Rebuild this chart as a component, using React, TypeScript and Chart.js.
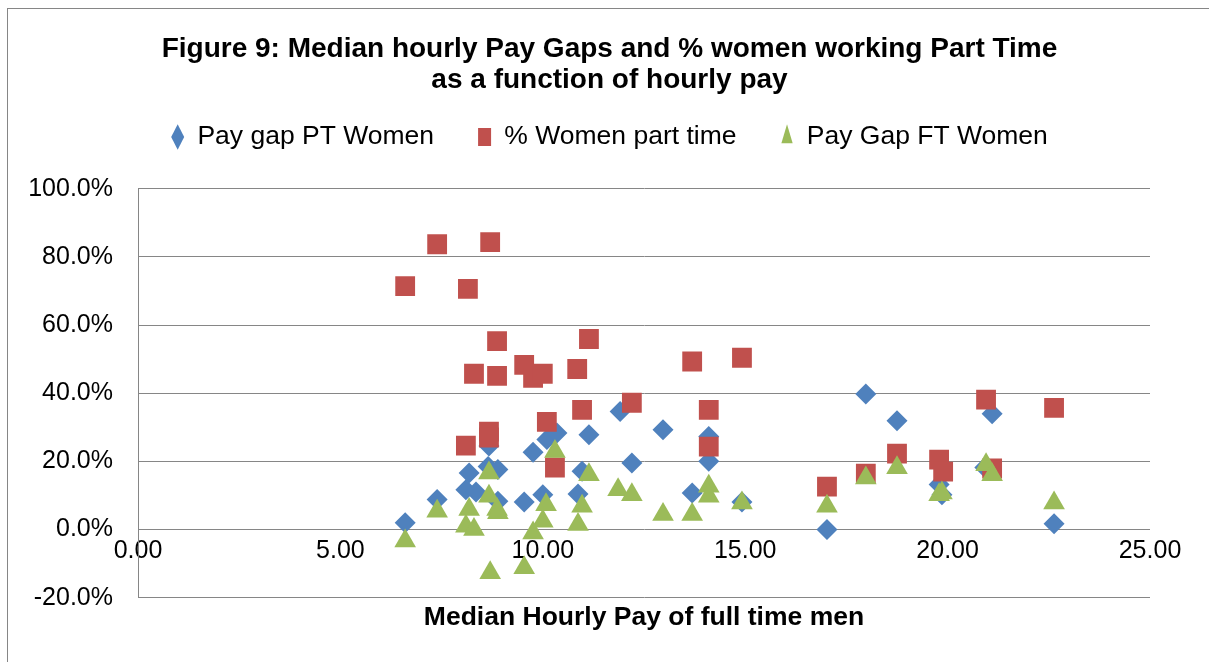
import React, { useEffect, useRef } from "react";
import { Chart, registerables } from "chart.js";

Chart.register(...registerables);

// ---- Data ----
const TITLE_LINES = [
  "Figure 9: Median hourly Pay Gaps and % women working Part Time",
  "as a function of hourly pay",
];
const X_TITLE = "Median Hourly Pay of full time men";
const SERIES_NAMES = ["Pay gap PT Women", "% Women part time", "Pay Gap FT Women"];

const ptGapX = [6.6, 7.39, 8.18, 8.1, 8.35, 8.67, 8.65, 8.89, 8.89, 9.54, 9.76, 10.0, 10.1, 10.35, 10.87, 10.97, 11.14, 11.91, 12.2, 12.97, 13.69, 14.1, 14.1, 14.92, 17.02, 17.98, 18.75, 19.79, 19.86, 20.92, 21.1, 22.63];
const ptGapY = [2.0, 8.8, 16.6, 11.7, 11.0, 24.5, 18.5, 17.6, 8.3, 8.1, 22.7, 10.2, 26.4, 28.3, 10.4, 17.1, 27.8, 34.6, 19.5, 29.3, 10.7, 27.3, 20.0, 8.1, 0.0, 39.8, 31.9, 13.2, 10.2, 18.2, 34.0, 1.7];

const pctPtX = [6.6, 7.39, 8.15, 8.7, 8.3, 8.1, 8.67, 8.67, 8.87, 8.87, 9.54, 9.76, 10.0, 10.1, 10.3, 10.85, 10.97, 11.14, 12.2, 13.69, 14.1, 14.1, 14.92, 17.02, 17.98, 18.75, 19.79, 19.89, 20.95, 21.1, 22.63];
const pctPtY = [71.4, 83.7, 70.6, 84.3, 45.7, 24.6, 28.7, 27.0, 55.3, 45.1, 48.3, 44.5, 45.7, 31.6, 18.2, 47.1, 35.1, 55.9, 37.2, 49.3, 35.1, 24.3, 50.4, 12.6, 16.4, 22.3, 20.5, 17.0, 38.1, 17.9, 35.7];

const ftGapX = [6.6, 7.39, 8.18, 8.1, 8.3, 8.67, 8.67, 8.7, 8.87, 8.89, 9.54, 9.76, 10.0, 10.08, 10.3, 10.87, 10.97, 11.14, 11.86, 12.2, 12.97, 13.69, 14.1, 14.1, 14.92, 17.02, 17.98, 18.75, 19.79, 19.86, 20.95, 21.1, 22.63];
const ftGapY = [-3.4, 5.4, 5.9, 1.0, 0.0, 16.6, 9.8, -12.7, 5.9, 4.9, -11.2, -1.0, 2.4, 7.3, 22.9, 1.5, 6.8, 16.1, 11.7, 10.2, 4.4, 4.4, 12.7, 9.8, 7.8, 6.8, 15.1, 18.1, 10.2, 10.7, 19.0, 16.1, 7.8];

const X_MIN = 0;
const X_MAX = 25;
const X_STEP = 5;
const Y_MIN = -20;
const Y_MAX = 100;
const Y_STEP = 20;

const FONT = '"Liberation Sans", Arial, sans-serif';
const BLUE = "#4F81BD";
const RED = "#C0504D";
const GREEN = "#9BBB59";
const GRID = "#868686";

const pts = (xs: number[], ys: number[]) => xs.map((x, i) => ({ x, y: ys[i] }));

export default function App() {
  const ref = useRef<HTMLCanvasElement>(null);

  useEffect(() => {
    const canvas = ref.current;
    if (!canvas) return;
    const common = { xAxisID: "x", yAxisID: "y", borderWidth: 0 };
    const chart = new Chart(canvas, {
      type: "scatter",
      data: {
        datasets: [
          {
            ...common,
            label: SERIES_NAMES[0],
            data: pts(ptGapX, ptGapY),
            pointStyle: "rectRot",
            pointRadius: 10.5,
            pointHoverRadius: 10.5,
            backgroundColor: BLUE,
            borderColor: BLUE,
            order: 2,
          },
          {
            ...common,
            label: SERIES_NAMES[1],
            data: pts(pctPtX, pctPtY),
            pointStyle: "rect",
            pointRadius: 14,
            pointHoverRadius: 14,
            backgroundColor: RED,
            borderColor: RED,
            order: 1,
          },
          {
            ...common,
            label: SERIES_NAMES[2],
            data: pts(ftGapX, ftGapY),
            pointStyle: "triangle",
            pointRadius: 12.5,
            pointHoverRadius: 12.5,
            backgroundColor: GREEN,
            borderColor: GREEN,
            order: 0,
          },
        ],
      },
      options: {
        animation: false,
        responsive: false,
        layout: { padding: { left: 0, right: 0, top: 0, bottom: 64.3 } },
        plugins: {
          title: {
            display: true,
            text: TITLE_LINES,
            color: "#000",
            font: { family: FONT, size: 28, weight: "bold", lineHeight: 31 / 28 },
            padding: { top: 33.5, bottom: -15.75 },
          },
          legend: {
            display: true,
            position: "top",
            labels: {
              usePointStyle: true,
              pointStyleWidth: 13,
              boxHeight: 18,
              padding: 44,
              color: "#000",
              font: { family: FONT, size: 26.5 },
              sort: (a: any, b: any) => a.datasetIndex - b.datasetIndex,
            },
          },
          subtitle: {
            display: true,
            text: " ",
            position: "top",
            weight: 500,
            color: "rgba(0,0,0,0)",
            font: { family: FONT, size: 10, lineHeight: 1 },
            padding: { top: 18.45, bottom: 0 },
          },
          tooltip: { enabled: false },
        },
        scales: {
          x: {
            type: "linear",
            position: { y: 0 } as any,
            min: X_MIN,
            max: X_MAX,
            ticks: {
              stepSize: X_STEP,
              padding: 7,
              color: "#000",
              maxRotation: 0,
              autoSkip: false,
              font: { family: FONT, size: 25 },
              callback: (v: any) => Number(v).toFixed(2),
            },
            grid: { display: false, drawTicks: false },
            border: { display: false },
            title: {
              display: true,
              text: X_TITLE,
              color: "#000",
              font: { family: FONT, size: 26.5, weight: "bold" },
              padding: { top: 28, bottom: 0 },
            },
          },
          y: {
            type: "linear",
            position: "left",
            min: Y_MIN,
            max: Y_MAX,
            ticks: {
              stepSize: Y_STEP,
              padding: 25,
              color: "#000",
              font: { family: FONT, size: 25 },
              callback: (v: any) => Number(v).toFixed(1) + "%",
            },
            grid: { color: GRID, lineWidth: 1, drawTicks: false },
            border: { display: true, color: GRID, width: 1 },
            afterFit: (s: any) => {
              s.width = 138;
            },
          },
          yRightSpace: {
            type: "linear",
            axis: "y",
            position: "right",
            min: Y_MIN,
            max: Y_MAX,
            ticks: { display: false },
            grid: { display: false, drawTicks: false },
            border: { display: false },
            afterFit: (s: any) => {
              s.width = 69;
            },
          },
        },
      } as any,
    });
    return () => chart.destroy();
  }, []);

  return (
    <div
      style={{
        position: "fixed",
        left: 0,
        top: 0,
        width: 1209,
        height: 662,
        overflow: "hidden",
        background: "#fff",
      }}
    >
      <canvas
        ref={ref}
        width={1219}
        height={662}
        style={{ position: "absolute", left: 0, top: 0, width: 1219, height: 662 }}
      />
      <div
        style={{
          position: "absolute",
          left: 7,
          top: 8,
          width: 1300,
          height: 700,
          border: "1px solid #868686",
          pointerEvents: "none",
        }}
      />
    </div>
  );
}
